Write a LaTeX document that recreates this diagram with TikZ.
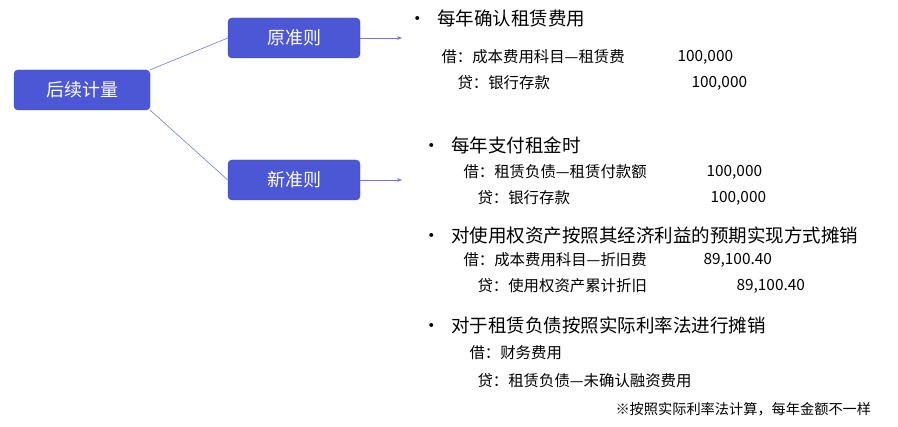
\documentclass[tikz,border=0pt]{standalone}
\usepackage{fontspec}
\setmainfont{Noto Sans CJK SC}
\usetikzlibrary{arrows.meta}
\definecolor{boxc}{HTML}{4C57D6}
\begin{document}
\begin{tikzpicture}[x=1pt,y=-1pt,
  box/.style={draw=boxc!80!black,fill=boxc,rounded corners=4pt,minimum width=136pt,minimum height=40pt,text=white,font=\fontsize{18}{20}\selectfont},
  hd/.style={anchor=west,font=\fontsize{18.5}{20}\selectfont},
  en/.style={anchor=west,font=\fontsize{15.4}{17}\selectfont},
  ln/.style={draw=boxc!80,line width=0.6pt},
  ar/.style={ln,-{Stealth[length=5pt]}}]
\useasboundingbox (0,0) rectangle (898,427);
\node[box,minimum width=136pt] (a) at (82,90) {后续计量};
\node[box,minimum width=132pt] (b) at (294,38) {原准则};
\node[box,minimum width=132pt] (c) at (294,180) {新准则};
\draw[ln] (a.north east) -- (b.west);
\draw[ln] (a.south east) -- (c.west);
\coordinate (bt) at (402,38);
\coordinate (ct) at (402,180);
\draw[ar] (b.east) -- (bt);
\draw[ar] (c.east) -- (ct);
\node[hd] (t1) at (405,18) {•\hspace{10pt}每年确认租赁费用};
\node[en] (t1a) at (438,57) {借：成本费用科目—租赁费};
\node[en] (t1b) at (674,57) {100,000};
\node[en] (t1c) at (454,83) {贷：银行存款};
\node[en] (t1d) at (688,83) {100,000};
\node[hd] (t2) at (419,145) {•\hspace{10pt}每年支付租金时};
\node[en] (t2a) at (460,172) {借：租赁负债—租赁付款额};
\node[en] (t2b) at (703,172) {100,000};
\node[en] (t2c) at (474,198) {贷：银行存款};
\node[en] (t2d) at (707,198) {100,000};
\node[hd] (t3) at (419,235) {•\hspace{10pt}对使用权资产按照其经济利益的预期实现方式摊销};
\node[en] (t3a) at (460,260) {借：成本费用科目—折旧费};
\node[en] (t3b) at (700,260) {89,100.40};
\node[en] (t3c) at (474,286) {贷：使用权资产累计折旧};
\node[en] (t3d) at (733,286) {89,100.40};
\node[hd] (t4) at (419,325) {•\hspace{10pt}对于租赁负债按照实际利率法进行摊销};
\node[en] (t4a) at (466,353) {借：财务费用};
\node[en] (t4b) at (474,381) {贷：租赁负债—未确认融资费用};
\node[anchor=west,font=\fontsize{14.2}{16}\selectfont] (n) at (612,409) {※按照实际利率法计算，每年金额不一样};
\end{tikzpicture}
\end{document}
